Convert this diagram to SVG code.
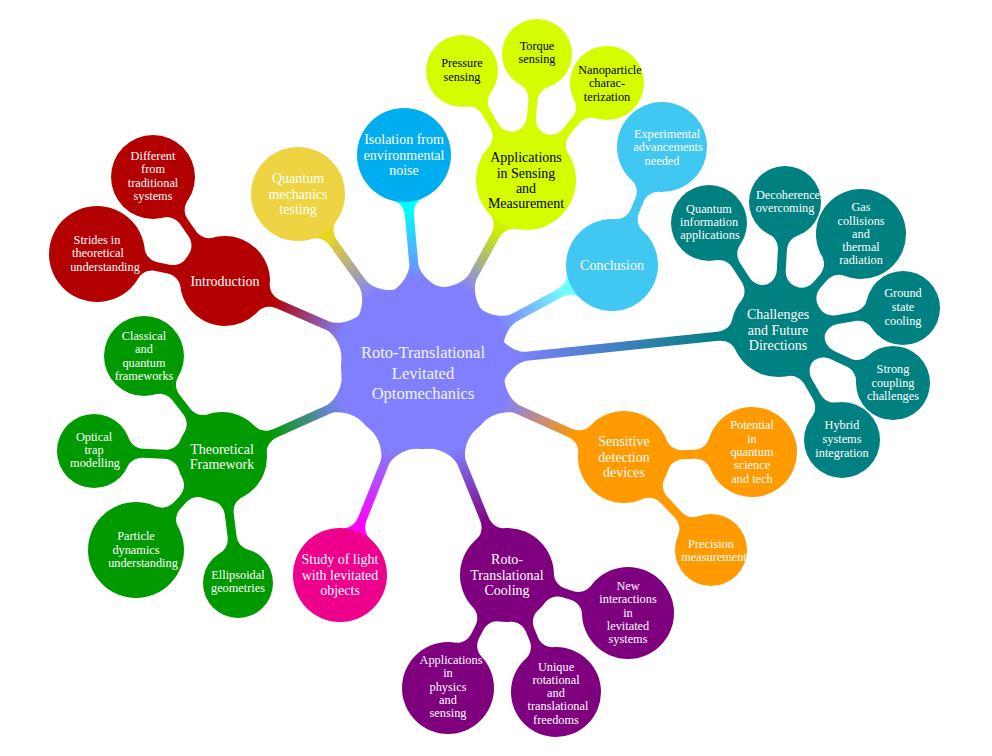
<svg xmlns="http://www.w3.org/2000/svg" width="992" height="756" viewBox="0 0 992 756">
<style>
text{font-family:"Liberation Serif","DejaVu Serif",serif;fill:#fff;text-anchor:middle}
.t0{font-size:16.5px;fill:#f4f4ff}
.t1{font-size:14px}
.t2{font-size:12.3px}
.dk{fill:#000}
</style>
<defs>
<linearGradient id="gIntro"><stop offset="0.1" stop-color="#8080ff"/><stop offset="0.9" stop-color="#b30000"/></linearGradient>
<linearGradient id="gQmt"><stop offset="0.1" stop-color="#8080ff"/><stop offset="0.9" stop-color="#e8d61e"/></linearGradient>
<linearGradient id="gIso"><stop offset="0.1" stop-color="#8080ff"/><stop offset="0.9" stop-color="#00ffff"/></linearGradient>
<linearGradient id="gApp"><stop offset="0.1" stop-color="#8080ff"/><stop offset="0.9" stop-color="#d0f000"/></linearGradient>
<linearGradient id="gConcl"><stop offset="0.1" stop-color="#8080ff"/><stop offset="0.9" stop-color="#70ffff"/></linearGradient>
<linearGradient id="gChal"><stop offset="0.05" stop-color="#8080ff"/><stop offset="0.95" stop-color="#008080"/></linearGradient>
<linearGradient id="gSens"><stop offset="0.1" stop-color="#8080ff"/><stop offset="0.9" stop-color="#ff9900"/></linearGradient>
<linearGradient id="gCool"><stop offset="0.1" stop-color="#8080ff"/><stop offset="0.9" stop-color="#800080"/></linearGradient>
<linearGradient id="gLight"><stop offset="0.1" stop-color="#8080ff"/><stop offset="0.9" stop-color="#ff00ff"/></linearGradient>
<linearGradient id="gTheo"><stop offset="0.1" stop-color="#8080ff"/><stop offset="0.9" stop-color="#009900"/></linearGradient>
</defs>

<g id="connectors">
<path fill="url(#gIntro)" transform="translate(423 367) rotate(-156.52)" d="M78.1,-25C81.15,-15.48 94.1,-4.5 104.1,-4.5L157.27,-4.5C165.27,-4.5 171.27,-8.8 173.27,-14.5L173.27,14.5C171.27,8.8 165.27,4.5 157.27,4.5L104.1,4.5C94.1,4.5 81.15,15.48 78.1,25Z"/>
<path fill="url(#gQmt)" transform="translate(423 367) rotate(-125.85)" d="M78.1,-25C81.15,-15.48 94.1,-4.5 104.1,-4.5L152.72,-4.5C160.72,-4.5 166.72,-8.8 168.72,-14.5L168.72,14.5C166.72,8.8 160.72,4.5 152.72,4.5L104.1,4.5C94.1,4.5 81.15,15.48 78.1,25Z"/>
<path fill="url(#gIso)" transform="translate(423 367) rotate(-95.12)" d="M78.1,-25C81.15,-15.48 94.1,-4.5 104.1,-4.5L152.14,-4.5C160.14,-4.5 166.14,-8.8 168.14,-14.5L168.14,14.5C166.14,8.8 160.14,4.5 152.14,4.5L104.1,4.5C94.1,4.5 81.15,15.48 78.1,25Z"/>
<path fill="url(#gApp)" transform="translate(423 367) rotate(-61.15)" d="M78.1,-25C81.15,-15.48 94.1,-4.5 104.1,-4.5L149.64,-4.5C157.64,-4.5 163.64,-8.8 165.64,-14.5L165.64,14.5C163.64,8.8 157.64,4.5 149.64,4.5L104.1,4.5C94.1,4.5 81.15,15.48 78.1,25Z"/>
<path fill="url(#gConcl)" transform="translate(423 367) rotate(-28.36)" d="M78.1,-25C81.15,-15.48 94.1,-4.5 104.1,-4.5L155.12,-4.5C163.12,-4.5 169.12,-8.8 171.12,-14.5L171.12,14.5C169.12,8.8 163.12,4.5 155.12,4.5L104.1,4.5C94.1,4.5 81.15,15.48 78.1,25Z"/>
<path fill="url(#gChal)" transform="translate(423 367) rotate(-5.95)" d="M78.1,-25C81.15,-15.48 94.1,-4.5 104.1,-4.5L296.21,-4.5C304.21,-4.5 310.21,-8.8 312.21,-14.5L312.21,14.5C310.21,8.8 304.21,4.5 296.21,4.5L104.1,4.5C94.1,4.5 81.15,15.48 78.1,25Z"/>
<path fill="url(#gSens)" transform="translate(423 367) rotate(24.12)" d="M78.1,-25C81.15,-15.48 94.1,-4.5 104.1,-4.5L160.58,-4.5C168.58,-4.5 174.58,-8.8 176.58,-14.5L176.58,14.5C174.58,8.8 168.58,4.5 160.58,4.5L104.1,4.5C94.1,4.5 81.15,15.48 78.1,25Z"/>
<path fill="url(#gCool)" transform="translate(423 367) rotate(68.01)" d="M78.1,-25C81.15,-15.48 94.1,-4.5 104.1,-4.5L163.61,-4.5C171.61,-4.5 177.61,-8.8 179.61,-14.5L179.61,14.5C177.61,8.8 171.61,4.5 163.61,4.5L104.1,4.5C94.1,4.5 81.15,15.48 78.1,25Z"/>
<path fill="url(#gLight)" transform="translate(423 367) rotate(111.76)" d="M78.1,-25C81.15,-15.48 94.1,-4.5 104.1,-4.5L163.24,-4.5C171.24,-4.5 177.24,-8.8 179.24,-14.5L179.24,14.5C177.24,8.8 171.24,4.5 163.24,4.5L104.1,4.5C94.1,4.5 81.15,15.48 78.1,25Z"/>
<path fill="url(#gTheo)" transform="translate(423 367) rotate(155.88)" d="M78.1,-25C81.15,-15.48 94.1,-4.5 104.1,-4.5L161.63,-4.5C169.63,-4.5 175.63,-8.8 177.63,-14.5L177.63,14.5C175.63,8.8 169.63,4.5 161.63,4.5L104.1,4.5C94.1,4.5 81.15,15.48 78.1,25Z"/>

<g fill="#b30000" transform="translate(225 281)">
<path transform="rotate(-124.70)" d="M42.6,-14.5C44.6,-8.8 50.6,-4.5 57.6,-4.5L72.07,-4.5C79.07,-4.5 85.07,-8.8 87.07,-14.5L87.07,14.5C85.07,8.8 79.07,4.5 72.07,4.5L57.6,4.5C50.6,4.5 44.6,8.8 42.6,14.5Z"/>
<path transform="rotate(-168.09)" d="M42.6,-14.5C44.6,-8.8 50.6,-4.5 57.6,-4.5L70.06,-4.5C77.06,-4.5 83.06,-8.8 85.06,-14.5L85.06,14.5C83.06,8.8 77.06,4.5 70.06,4.5L57.6,4.5C50.6,4.5 44.6,8.8 42.6,14.5Z"/>
</g>
<g fill="#d5fd00" transform="translate(526 180)">
<path transform="rotate(-120.42)" d="M47.85,-14.5C49.85,-8.8 55.85,-4.5 62.85,-4.5L78.45,-4.5C85.45,-4.5 91.45,-8.8 93.45,-14.5L93.45,14.5C91.45,8.8 85.45,4.5 78.45,4.5L62.85,4.5C55.85,4.5 49.85,8.8 47.85,14.5Z"/>
<path transform="rotate(-85.01)" d="M47.85,-14.5C49.85,-8.8 55.85,-4.5 62.85,-4.5L79.62,-4.5C86.62,-4.5 92.62,-8.8 94.62,-14.5L94.62,14.5C92.62,8.8 86.62,4.5 79.62,4.5L62.85,4.5C55.85,4.5 49.85,8.8 47.85,14.5Z"/>
<path transform="rotate(-50.13)" d="M47.85,-14.5C49.85,-8.8 55.85,-4.5 62.85,-4.5L77.33,-4.5C84.33,-4.5 90.33,-8.8 92.33,-14.5L92.33,14.5C90.33,8.8 84.33,4.5 77.33,4.5L62.85,4.5C55.85,4.5 49.85,8.8 47.85,14.5Z"/>
</g>
<g fill="#41c8f2" transform="translate(612 265)">
<path transform="rotate(-67.04)" d="M43.65,-14.5C45.65,-8.8 51.65,-4.5 58.65,-4.5L70.56,-4.5C77.56,-4.5 83.56,-8.8 85.56,-14.5L85.56,14.5C83.56,8.8 77.56,4.5 70.56,4.5L58.65,4.5C51.65,4.5 45.65,8.8 43.65,14.5Z"/>
</g>
<g fill="#008080" transform="translate(778 330)">
<path transform="rotate(-122.82)" d="M44.71,-14.5C46.71,-8.8 52.71,-4.5 59.71,-4.5L77.18,-4.5C84.18,-4.5 90.18,-8.8 92.18,-14.5L92.18,14.5C90.18,8.8 84.18,4.5 77.18,4.5L59.71,4.5C52.71,4.5 46.71,8.8 44.71,14.5Z"/>
<path transform="rotate(-86.87)" d="M44.71,-14.5C46.71,-8.8 52.71,-4.5 59.71,-4.5L80.24,-4.5C87.24,-4.5 93.24,-8.8 95.24,-14.5L95.24,14.5C93.24,8.8 87.24,4.5 80.24,4.5L59.71,4.5C52.71,4.5 46.71,8.8 44.71,14.5Z"/>
<path transform="rotate(-49.15)" d="M44.71,-14.5C46.71,-8.8 52.71,-4.5 59.71,-4.5L69.3,-4.5C76.3,-4.5 82.3,-8.8 84.3,-14.5L84.3,14.5C82.3,8.8 76.3,4.5 69.3,4.5L59.71,4.5C52.71,4.5 46.71,8.8 44.71,14.5Z"/>
<path transform="rotate(-9.98)" d="M44.71,-14.5C46.71,-8.8 52.71,-4.5 59.71,-4.5L77.88,-4.5C84.88,-4.5 90.88,-8.8 92.88,-14.5L92.88,14.5C90.88,8.8 84.88,4.5 77.88,4.5L59.71,4.5C52.71,4.5 46.71,8.8 44.71,14.5Z"/>
<path transform="rotate(24.74)" d="M44.71,-14.5C46.71,-8.8 52.71,-4.5 59.71,-4.5L77.59,-4.5C84.59,-4.5 90.59,-8.8 92.59,-14.5L92.59,14.5C90.59,8.8 84.59,4.5 77.59,4.5L59.71,4.5C52.71,4.5 46.71,8.8 44.71,14.5Z"/>
<path transform="rotate(59.81)" d="M44.71,-14.5C46.71,-8.8 52.71,-4.5 59.71,-4.5L77.14,-4.5C84.14,-4.5 90.14,-8.8 92.14,-14.5L92.14,14.5C90.14,8.8 84.14,4.5 77.14,4.5L59.71,4.5C52.71,4.5 46.71,8.8 44.71,14.5Z"/>
</g>
<g fill="#ff9a00" transform="translate(624 457)">
<path transform="rotate(-2.24)" d="M43.65,-14.5C45.65,-8.8 51.65,-4.5 58.65,-4.5L70.5,-4.5C77.5,-4.5 83.5,-8.8 85.5,-14.5L85.5,14.5C83.5,8.8 77.5,4.5 70.5,4.5L58.65,4.5C51.65,4.5 45.65,8.8 43.65,14.5Z"/>
<path transform="rotate(46.91)" d="M43.65,-14.5C45.65,-8.8 51.65,-4.5 58.65,-4.5L79.4,-4.5C86.4,-4.5 92.4,-8.8 94.4,-14.5L94.4,14.5C92.4,8.8 86.4,4.5 79.4,4.5L58.65,4.5C51.65,4.5 45.65,8.8 43.65,14.5Z"/>
</g>
<g fill="#7f007f" transform="translate(507 575)">
<path transform="rotate(17.43)" d="M44.71,-14.5C46.71,-8.8 52.71,-4.5 59.71,-4.5L68.18,-4.5C75.18,-4.5 81.18,-8.8 83.18,-14.5L83.18,14.5C81.18,8.8 75.18,4.5 68.18,4.5L59.71,4.5C52.71,4.5 46.71,8.8 44.71,14.5Z"/>
<path transform="rotate(67.28)" d="M44.71,-14.5C46.71,-8.8 52.71,-4.5 59.71,-4.5L69.25,-4.5C76.25,-4.5 82.25,-8.8 84.25,-14.5L84.25,14.5C82.25,8.8 76.25,4.5 69.25,4.5L59.71,4.5C52.71,4.5 46.71,8.8 44.71,14.5Z"/>
<path transform="rotate(117.57)" d="M44.71,-14.5C46.71,-8.8 52.71,-4.5 59.71,-4.5L68.83,-4.5C75.83,-4.5 81.83,-8.8 83.83,-14.5L83.83,14.5C81.83,8.8 75.83,4.5 68.83,4.5L59.71,4.5C52.71,4.5 46.71,8.8 44.71,14.5Z"/>
</g>
<g fill="#009900" transform="translate(222 457)">
<path transform="rotate(-127.68)" d="M42.6,-14.5C44.6,-8.8 50.6,-4.5 57.6,-4.5L75.32,-4.5C82.32,-4.5 88.32,-8.8 90.32,-14.5L90.32,14.5C88.32,8.8 82.32,4.5 75.32,4.5L57.6,4.5C50.6,4.5 44.6,8.8 42.6,14.5Z"/>
<path transform="rotate(-177.32)" d="M42.6,-14.5C44.6,-8.8 50.6,-4.5 57.6,-4.5L79.1,-4.5C86.1,-4.5 92.1,-8.8 94.1,-14.5L94.1,14.5C92.1,8.8 86.1,4.5 79.1,4.5L57.6,4.5C50.6,4.5 44.6,8.8 42.6,14.5Z"/>
<path transform="rotate(132.76)" d="M42.6,-14.5C44.6,-8.8 50.6,-4.5 57.6,-4.5L65.91,-4.5C72.91,-4.5 78.91,-8.8 80.91,-14.5L80.91,14.5C78.91,8.8 72.91,4.5 65.91,4.5L57.6,4.5C50.6,4.5 44.6,8.8 42.6,14.5Z"/>
<path transform="rotate(82.76)" d="M42.6,-14.5C44.6,-8.8 50.6,-4.5 57.6,-4.5L80.15,-4.5C87.15,-4.5 93.15,-8.8 95.15,-14.5L95.15,14.5C93.15,8.8 87.15,4.5 80.15,4.5L57.6,4.5C50.6,4.5 44.6,8.8 42.6,14.5Z"/>
</g>
</g>

<g id="n-center"><circle cx="423" cy="367" r="82" fill="#8080ff"/>
<text class="t0"><tspan x="423" y="358">Roto-Translational</tspan><tspan x="423" y="378.5">Levitated</tspan><tspan x="423" y="399">Optomechanics</tspan></text></g>

<g id="n-intro"><circle cx="225" cy="281" r="45" fill="#b30000"/>
<text class="t1" x="225" y="285.6">Introduction</text></g>
<g id="n-different"><circle cx="153" cy="177" r="42" fill="#b30000"/>
<text class="t2"><tspan x="153" y="160">Different</tspan><tspan x="153" dy="13.3">from</tspan><tspan x="153" dy="13.3">traditional</tspan><tspan x="153" dy="13.3">systems</tspan></text></g>
<g id="n-strides"><circle cx="97" cy="254" r="48" fill="#b30000"/>
<text class="t2"><tspan x="97" y="244">Strides in</tspan><tspan x="98" dy="13.3">theoretical</tspan><tspan x="105" dy="13.3">understanding</tspan></text></g>

<g id="n-qmt"><circle cx="298" cy="194" r="47" fill="#eed442"/>
<text class="t1"><tspan x="298" y="183.1">Quantum</tspan><tspan x="298" dy="15.5">mechanics</tspan><tspan x="298" dy="15.5">testing</tspan></text></g>

<g id="n-iso"><circle cx="404" cy="155" r="47" fill="#00aeef"/>
<text class="t1"><tspan x="404" y="144.1">Isolation from</tspan><tspan x="404" dy="15.5">environmental</tspan><tspan x="404" dy="15.5">noise</tspan></text></g>

<g id="n-app"><circle cx="526" cy="180" r="50" fill="#d5fd00"/>
<text class="t1 dk"><tspan x="526" y="162.4">Applications</tspan><tspan x="526" dy="15.3">in Sensing</tspan><tspan x="526" dy="15.3">and</tspan><tspan x="526" dy="15.3">Measurement</tspan></text></g>
<g id="n-pressure"><circle cx="462" cy="71" r="36" fill="#d5fd00"/>
<text class="t2 dk"><tspan x="462" y="67.3">Pressure</tspan><tspan x="462" dy="13.3">sensing</tspan></text></g>
<g id="n-torque"><circle cx="537" cy="54" r="35" fill="#d5fd00"/>
<text class="t2 dk"><tspan x="537" y="50">Torque</tspan><tspan x="537" dy="13.3">sensing</tspan></text></g>
<g id="n-nano"><circle cx="607" cy="83" r="37" fill="#d5fd00"/>
<text class="t2 dk"><tspan x="610" y="74">Nanoparticle</tspan><tspan x="607" dy="13.3">charac-</tspan><tspan x="607" dy="13.3">terization</tspan></text></g>

<g id="n-concl"><circle cx="612" cy="265" r="46" fill="#41c8f2"/>
<text class="t1" x="612" y="269.6">Conclusion</text></g>
<g id="n-exp"><circle cx="662" cy="147" r="45" fill="#41c8f2"/>
<text class="t2"><tspan x="667" y="138">Experimental</tspan><tspan x="668" dy="13.3">advancements</tspan><tspan x="662" dy="13.3">needed</tspan></text></g>

<g id="n-chal"><circle cx="778" cy="330" r="47" fill="#008080"/>
<text class="t1"><tspan x="778" y="319.1">Challenges</tspan><tspan x="778" dy="15.5">and Future</tspan><tspan x="778" dy="15.5">Directions</tspan></text></g>
<g id="n-qia"><circle cx="709" cy="223" r="38" fill="#008080"/>
<text class="t2"><tspan x="709" y="213.3">Quantum</tspan><tspan x="709" dy="13">information</tspan><tspan x="710" dy="13">applications</tspan></text></g>
<g id="n-deco"><circle cx="785" cy="202" r="36" fill="#008080"/>
<text class="t2"><tspan x="788" y="199.3">Decoherence</tspan><tspan x="785" dy="13">overcoming</tspan></text></g>
<g id="n-gas"><circle cx="861" cy="234" r="45" fill="#008080"/>
<text class="t2"><tspan x="861" y="211.3">Gas</tspan><tspan x="861" dy="13.2">collisions</tspan><tspan x="861" dy="13.2">and</tspan><tspan x="861" dy="13.2">thermal</tspan><tspan x="861" dy="13.2">radiation</tspan></text></g>
<g id="n-ground"><circle cx="903" cy="308" r="37" fill="#008080"/>
<text class="t2"><tspan x="903" y="297.3">Ground</tspan><tspan x="903" dy="13.7">state</tspan><tspan x="903" dy="13.7">cooling</tspan></text></g>
<g id="n-strong"><circle cx="893" cy="383" r="37" fill="#008080"/>
<text class="t2"><tspan x="893" y="373.3">Strong</tspan><tspan x="893" dy="13.3">coupling</tspan><tspan x="893" dy="13.3">challenges</tspan></text></g>
<g id="n-hybrid"><circle cx="842" cy="440" r="38" fill="#008080"/>
<text class="t2"><tspan x="842" y="429.3">Hybrid</tspan><tspan x="842" dy="13.7">systems</tspan><tspan x="842" dy="13.7">integration</tspan></text></g>

<g id="n-sens"><circle cx="624" cy="457" r="46" fill="#ff9a00"/>
<text class="t1"><tspan x="624" y="446.1">Sensitive</tspan><tspan x="624" dy="15.5">detection</tspan><tspan x="624" dy="15.5">devices</tspan></text></g>
<g id="n-potential"><circle cx="752" cy="452" r="45" fill="#ff9a00"/>
<text class="t2"><tspan x="752" y="429.3">Potential</tspan><tspan x="752" dy="13.3">in</tspan><tspan x="752" dy="13.3">quantum</tspan><tspan x="752" dy="13.3">science</tspan><tspan x="752" dy="13.3">and tech</tspan></text></g>
<g id="n-precision"><circle cx="711" cy="550" r="36" fill="#ff9a00"/>
<text class="t2"><tspan x="711" y="548.3">Precision</tspan><tspan x="714" dy="13">measurement</tspan></text></g>

<g id="n-cool"><circle cx="507" cy="575" r="47" fill="#7f007f"/>
<text class="t1"><tspan x="507" y="564.1">Roto-</tspan><tspan x="507" dy="15.5">Translational</tspan><tspan x="507" dy="15.5">Cooling</tspan></text></g>
<g id="n-new"><circle cx="628" cy="613" r="46" fill="#7f007f"/>
<text class="t2"><tspan x="628" y="590">New</tspan><tspan x="628" dy="13.3">interactions</tspan><tspan x="628" dy="13.3">in</tspan><tspan x="628" dy="13.3">levitated</tspan><tspan x="628" dy="13.3">systems</tspan></text></g>
<g id="n-unique"><circle cx="556" cy="692" r="45" fill="#7f007f"/>
<text class="t2"><tspan x="556" y="670.7">Unique</tspan><tspan x="556" dy="13.2">rotational</tspan><tspan x="556" dy="13.2">and</tspan><tspan x="558" dy="13.2">translational</tspan><tspan x="556" dy="13.2">freedoms</tspan></text></g>
<g id="n-appphys"><circle cx="448" cy="688" r="46" fill="#7f007f"/>
<text class="t2"><tspan x="451" y="664">Applications</tspan><tspan x="448" dy="13.3">in</tspan><tspan x="448" dy="13.3">physics</tspan><tspan x="448" dy="13.3">and</tspan><tspan x="448" dy="13.3">sensing</tspan></text></g>

<g id="n-light"><circle cx="340" cy="575" r="47" fill="#ec008c"/>
<text class="t1"><tspan x="340" y="564.1">Study of light</tspan><tspan x="340" dy="15.5">with levitated</tspan><tspan x="340" dy="15.5">objects</tspan></text></g>

<g id="n-theo"><circle cx="222" cy="457" r="45" fill="#009900"/>
<text class="t1"><tspan x="222" y="453.9">Theoretical</tspan><tspan x="222" dy="15.5">Framework</tspan></text></g>
<g id="n-classical"><circle cx="144" cy="356" r="40" fill="#009900"/>
<text class="t2"><tspan x="144" y="340">Classical</tspan><tspan x="144" dy="13.3">and</tspan><tspan x="144" dy="13.3">quantum</tspan><tspan x="144" dy="13.3">frameworks</tspan></text></g>
<g id="n-optical"><circle cx="94" cy="451" r="37" fill="#009900"/>
<text class="t2"><tspan x="94" y="441.3">Optical</tspan><tspan x="94" dy="13">trap</tspan><tspan x="95" dy="13">modelling</tspan></text></g>
<g id="n-particle"><circle cx="136" cy="550" r="48" fill="#009900"/>
<text class="t2"><tspan x="136" y="540">Particle</tspan><tspan x="136" dy="13.5">dynamics</tspan><tspan x="143" dy="13.5">understanding</tspan></text></g>
<g id="n-ellipsoidal"><circle cx="238" cy="583" r="35" fill="#009900"/>
<text class="t2"><tspan x="238" y="579.3">Ellipsoidal</tspan><tspan x="238" dy="13">geometries</tspan></text></g>
</svg>
